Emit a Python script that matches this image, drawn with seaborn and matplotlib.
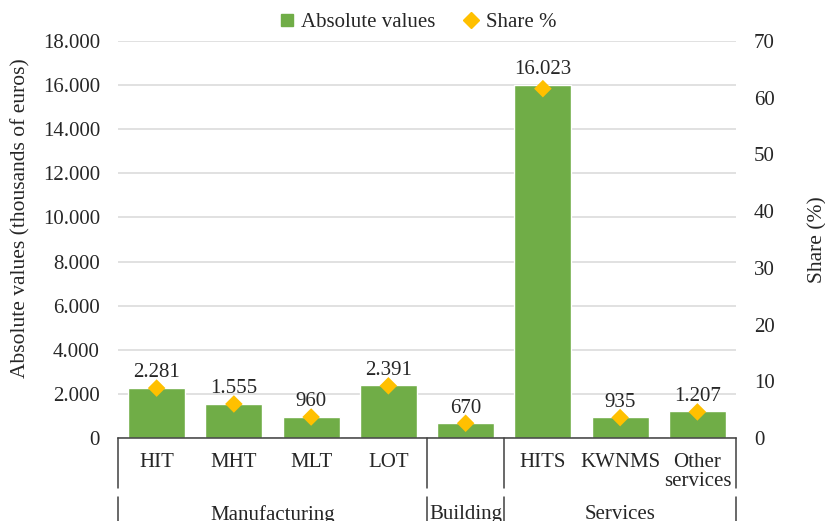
import numpy as np
import pandas as pd
import matplotlib
matplotlib.use("Agg")
import matplotlib.pyplot as plt
import matplotlib.transforms as mtransforms
from matplotlib.lines import Line2D
from matplotlib.ticker import FuncFormatter, MultipleLocator
import seaborn as sns

# Innovation expenditure by sector
categories = ["HIT", "MHT", "MLT", "LOT", "", "HITS", "KWNMS", "Other\nservices"]
groups = ["Manufacturing", "Manufacturing", "Manufacturing", "Manufacturing",
          "Building", "Services", "Services", "Services"]
absolute_values = [2281, 1555, 960, 2391, 670, 16023, 935, 1207]
share_pct = [8.8, 6.0, 3.7, 9.2, 2.6, 61.6, 3.6, 4.6]
group_names = ["Manufacturing", "Building", "Services"]

BAR = "#70ad47"
DIAMOND = "#ffc000"
GRID = "#d9d9d9"
AXIS = "#404040"

sns.set_style("white")
plt.rcParams["font.family"] = ["Liberation Serif", "DejaVu Serif"]
plt.rcParams["font.size"] = 15

df = pd.DataFrame({"pos": np.arange(len(categories)),
                   "abs": absolute_values,
                   "share": share_pct})

fig = plt.figure(figsize=(8.25, 5.21), dpi=100)
W, H = 825, 521
x0, x1, ytop, ybot = 118, 736, 41, 438
ax = fig.add_axes([x0 / W, 1 - ybot / H, (x1 - x0) / W, (ybot - ytop) / H])

sns.barplot(data=df, x="pos", y="abs", color=BAR, saturation=1, width=0.74,
            ax=ax, zorder=2)
ax.set_ylim(0, 18000)
ax.yaxis.set_major_locator(MultipleLocator(2000))
ax.yaxis.set_major_formatter(FuncFormatter(lambda v, p: f"{int(v):,}".replace(",", ".")))
ax.grid(axis="y", color=GRID, linewidth=1.1, zorder=0)
ax.set_axisbelow(True)
ax.set_xlim(-0.5, len(categories) - 0.5)
ax.set_xlabel("")
ax.set_ylabel("Absolute values (thousands of euros)", labelpad=9, fontsize=15.5)
ax.yaxis.label.set_y(0.554)
ax.set_xticks(np.arange(len(categories)))
ax.set_xticklabels(categories, linespacing=1.0)
ax.tick_params(axis="x", length=0, pad=11)
ax.tick_params(axis="y", length=0, pad=13)
for s in ["top", "right", "left"]:
    ax.spines[s].set_visible(False)
ax.spines["bottom"].set_color(AXIS)
ax.spines["bottom"].set_linewidth(1.1)

# value labels above each bar
for p, v in zip(df["pos"], absolute_values):
    ax.annotate(f"{v:,}".replace(",", "."), (p, v), xytext=(0, 4),
                textcoords="offset points", ha="center", va="bottom")

# share on the secondary axis
ax2 = ax.twinx()
sns.scatterplot(data=df, x="pos", y="share", marker="D", s=80, color=DIAMOND,
                edgecolor="none", ax=ax2, zorder=3, legend=False)
ax2.set_ylim(0, 70)
ax2.yaxis.set_major_locator(MultipleLocator(10))
ax2.set_ylabel("Share (%)", labelpad=24, fontsize=15.5)
ax2.tick_params(axis="y", length=0, pad=13)
for s in ["top", "right", "left", "bottom"]:
    ax2.spines[s].set_visible(False)
ax2.set_xlim(-0.5, len(categories) - 0.5)

# multi-level category axis: group dividers and group names
trans = mtransforms.blended_transform_factory(ax.transData, ax.transAxes)
def ya(px):
    return (H - px - (H - ybot)) / (ybot - ytop)

bounds = [-0.5]
for i in range(1, len(groups)):
    if groups[i] != groups[i - 1]:
        bounds.append(i - 0.5)
bounds.append(len(groups) - 0.5)
for b in bounds:
    for a, c in [(438, 488), (497, 530)]:
        ax.add_line(Line2D([b, b], [ya(a), ya(c)], transform=trans, color=AXIS,
                           linewidth=1.1, clip_on=False))
for g, (l, r) in zip(group_names, zip(bounds[:-1], bounds[1:])):
    ax.text((l + r) / 2, ya(505), g, transform=trans, ha="center", va="top",
            clip_on=False)

handles = [Line2D([], [], marker="s", linestyle="none", color=BAR, markersize=9),
           Line2D([], [], marker="D", linestyle="none", color=DIAMOND, markersize=8)]
fig.legend(handles, ["Absolute values", "Share %"], loc="center",
           bbox_to_anchor=(0.506, 1 - 22 / H), ncol=2, frameon=False,
           handlelength=0.8, handletextpad=0.3, columnspacing=1.3, borderaxespad=0)

fig.savefig("out.png", dpi=100)
